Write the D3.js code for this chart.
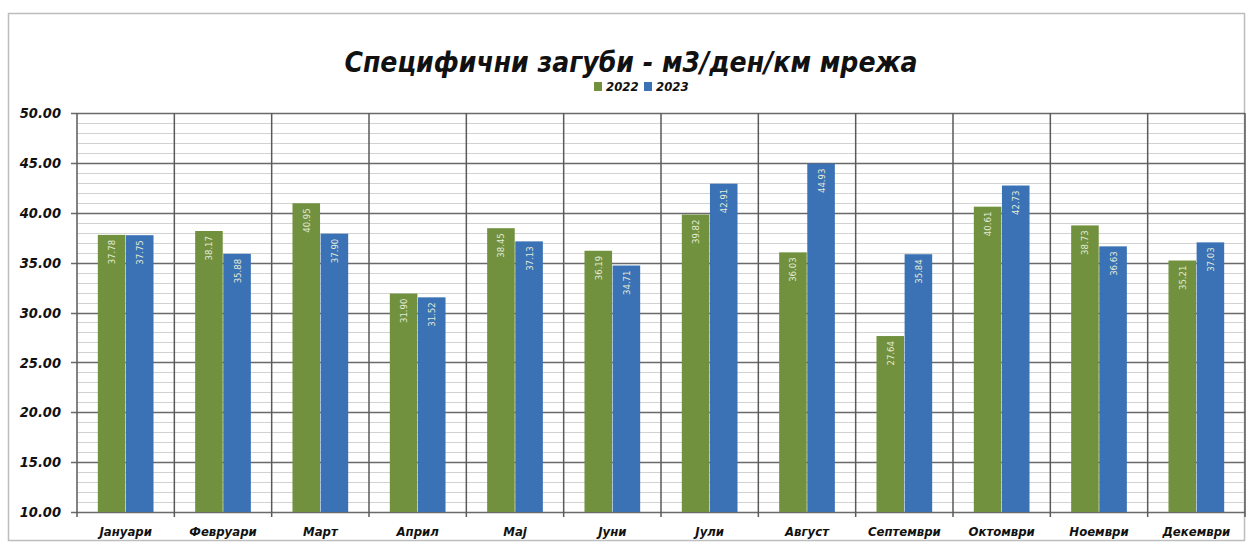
<!DOCTYPE html>
<html><head><meta charset="utf-8">
<script src="https://cdn.jsdelivr.net/npm/d3@7"></script>
<style>
html,body{margin:0;padding:0;background:#fff;}
svg text{font-family:"Liberation Sans Narrow","DejaVu Sans Condensed","Liberation Sans",sans-serif;font-weight:bold;font-style:italic;}
</style></head>
<body>
<svg id="c" width="1253" height="543"></svg>
<script>
const months = ["Јануари","Февруари","Март","Април","Мај","Јуни","Јули","Август","Септември","Октомври","Ноември","Декември"];
const seriesNames = ["2022","2023"];
const values2022 = [37.78,38.17,40.95,31.90,38.45,36.19,39.82,36.03,27.64,40.61,38.73,35.21];
const values2023 = [37.75,35.88,37.90,31.52,37.13,34.71,42.91,44.93,35.84,42.73,36.63,37.03];
const yTicks = [10,15,20,25,30,35,40,45,50];
const colors = ["#71913f","#3a72b5"];
const title = "Специфични загуби - м3/ден/км мрежа";

const svg = d3.select("#c");
const W = 1253, H = 543;
const m = {left:77, right:8, top:113, bottom:31};

// outer frame
svg.append("rect").attr("x",8.5).attr("y",13.5).attr("width",1236).attr("height",527)
  .attr("fill","none").attr("stroke","#bdbdbd").attr("stroke-width",1.5);

const x0 = d3.scaleBand().domain(months).range([m.left, W - m.right]).paddingInner(0).paddingOuter(0);
const x1 = d3.scaleBand().domain(seriesNames).range([0, x0.bandwidth()]).paddingInner(0.02).paddingOuter(0.74);
const y = d3.scaleLinear().domain([10,50]).range([H - m.bottom, m.top]);

// minor gridlines
const minor = d3.range(10,50.01,1);
svg.append("g").selectAll("line").data(minor).join("line")
  .attr("x1",m.left).attr("x2",W-m.right)
  .attr("y1",d=>Math.round(y(d))+0.5).attr("y2",d=>Math.round(y(d))+0.5)
  .attr("stroke","#d2d2d2").attr("stroke-width",1.2);

// major gridlines
svg.append("g").selectAll("line").data(yTicks).join("line")
  .attr("x1",m.left-6).attr("x2",W-m.right)
  .attr("y1",d=>Math.round(y(d))+0.5).attr("y2",d=>Math.round(y(d))+0.5)
  .attr("stroke","#6a6a6a").attr("stroke-width",1.4);

// vertical separators
const seps = months.map(mm => x0(mm)).concat([W - m.right]);
svg.append("g").selectAll("line").data(seps).join("line")
  .attr("x1",d=>d).attr("x2",d=>d)
  .attr("y1",m.top).attr("y2",H-m.bottom+5)
  .attr("stroke","#5a5a5a").attr("stroke-width",1.5);

// bars
const data = months.map((mm,i)=>({m:mm, vals:[{s:"2022",v:values2022[i]},{s:"2023",v:values2023[i]}]}));
const groups = svg.append("g").selectAll("g").data(data).join("g")
  .attr("transform",d=>`translate(${x0(d.m)},0)`);
groups.selectAll("rect").data(d=>d.vals).join("rect")
  .attr("x",d=>x1(d.s)).attr("width",x1.bandwidth())
  .attr("y",d=>y(d.v)).attr("height",d=>y(10)-y(d.v))
  .attr("fill",(d,i)=>colors[i]);
groups.selectAll("text").data(d=>d.vals).join("text")
  .attr("transform",d=>`translate(${x1(d.s)+x1.bandwidth()/2+3.5},${y(d.v)+5}) rotate(-90)`)
  .attr("text-anchor","end").attr("font-size",9.5).attr("fill","#e4ebd6")
  .style("font-style","normal").style("font-weight","normal")
  .text(d=>d.v.toFixed(2));

// y axis labels
const yAxis = d3.axisLeft(y).tickValues(yTicks).tickFormat(d3.format(".2f")).tickSize(0).tickPadding(16);
const ga = svg.append("g").attr("transform",`translate(${m.left},0)`).call(yAxis);
ga.select(".domain").remove();
ga.selectAll("text").attr("font-size",14.5).attr("fill","#111")
  .style("font-family","'Liberation Sans Narrow','DejaVu Sans Condensed',sans-serif");

// x labels
const xAxis = d3.axisBottom(x0).tickSize(0).tickPadding(15);
const gx = svg.append("g").attr("transform",`translate(0,${H-m.bottom})`).call(xAxis);
gx.select(".domain").remove();
gx.selectAll("text").attr("font-size",13).attr("fill","#111");

// title
svg.append("text").attr("x",631).attr("y",72).attr("text-anchor","middle")
  .attr("font-size",28).attr("fill","#111").text(title);

// legend
const leg = svg.append("g").attr("transform","translate(594,81)");
seriesNames.forEach((s,i)=>{
  const g = leg.append("g").attr("transform",`translate(${i*50},0)`);
  g.append("rect").attr("x",0).attr("y",1).attr("width",8).attr("height",9).attr("fill",colors[i]);
  g.append("text").attr("x",12).attr("y",10).attr("font-size",13).attr("fill","#111").text(s);
});
</script>
</body></html>
